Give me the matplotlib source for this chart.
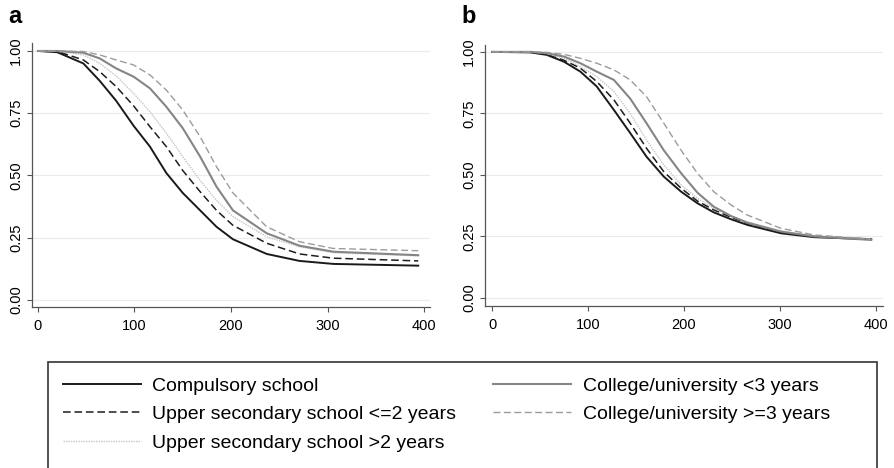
import matplotlib
matplotlib.use('Agg')
from matplotlib import pyplot as plt
from matplotlib.patches import Rectangle
from matplotlib.lines import Line2D

plt.rcParams['font.family'] = ['Liberation Sans', 'DejaVu Sans']

labels = ['Compulsory school', 'Upper secondary school <=2 years',
          'Upper secondary school >2 years', 'College/university <3 years',
          'College/university >=3 years']

# panel a
time_a = [0, 20, 47, 64, 81, 99, 116, 133, 150, 168, 185, 202, 237, 271, 306, 394]
a_comp = [1.0, 0.995, 0.95, 0.88, 0.80, 0.70, 0.616, 0.51, 0.43, 0.36, 0.294, 0.244, 0.185, 0.157, 0.145, 0.138]
a_us2 = [1.0, 0.998, 0.964, 0.917, 0.857, 0.78, 0.696, 0.616, 0.52, 0.435, 0.36, 0.30, 0.228, 0.185, 0.168, 0.157]
a_us3 = [1.0, 1.0, 0.984, 0.95, 0.90, 0.83, 0.756, 0.67, 0.576, 0.48, 0.40, 0.335, 0.254, 0.214, 0.19, 0.177]
a_col2 = [1.0, 1.0, 0.993, 0.97, 0.93, 0.897, 0.85, 0.776, 0.69, 0.576, 0.455, 0.36, 0.268, 0.218, 0.194, 0.18]
a_col3 = [1.0, 1.0, 0.998, 0.984, 0.964, 0.944, 0.904, 0.843, 0.763, 0.656, 0.535, 0.43, 0.294, 0.234, 0.207, 0.198]

# panel b
time_b = [0, 40, 57, 75, 92, 109, 127, 144, 161, 179, 197, 214, 231, 249, 266, 301, 336, 395]
b_comp = [1.0, 0.998, 0.988, 0.96, 0.92, 0.86, 0.764, 0.67, 0.574, 0.493, 0.432, 0.385, 0.348, 0.32, 0.297, 0.263, 0.247, 0.239]
b_us2 = [1.0, 0.999, 0.99, 0.966, 0.934, 0.88, 0.805, 0.71, 0.608, 0.513, 0.446, 0.394, 0.358, 0.328, 0.304, 0.267, 0.25, 0.239]
b_us3 = [1.0, 1.0, 0.993, 0.974, 0.94, 0.90, 0.839, 0.75, 0.642, 0.54, 0.46, 0.405, 0.365, 0.333, 0.31, 0.272, 0.252, 0.24]
b_col2 = [1.0, 1.0, 0.995, 0.981, 0.954, 0.92, 0.886, 0.81, 0.71, 0.60, 0.507, 0.428, 0.371, 0.333, 0.306, 0.27, 0.25, 0.236]
b_col3 = [1.0, 1.0, 0.998, 0.99, 0.974, 0.954, 0.927, 0.886, 0.818, 0.71, 0.60, 0.507, 0.432, 0.378, 0.337, 0.283, 0.256, 0.239]

styles = [
    dict(color='#1a1a1a', lw=1.4, ls='-'),
    dict(color='#1e1e1e', lw=1.1, ls=(0, (5, 2.5))),
    dict(color='#c4c4c4', lw=1.0, ls=(0, (1, 0.8))),
    dict(color='#858585', lw=1.5, ls='-'),
    dict(color='#9c9c9c', lw=1.0, ls=(0, (5, 2.5))),
]

W, H = 894, 468
fig = plt.figure(figsize=(W / 100, H / 100), dpi=100)


def setup(ax, xlim, ylim):
    ax.set_xlim(*xlim)
    ax.set_ylim(*ylim)
    for s in ['top', 'right']:
        ax.spines[s].set_visible(False)
    for s in ['left', 'bottom']:
        ax.spines[s].set_color('#555555')
        ax.spines[s].set_linewidth(0.9)
    ax.set_xticks([0, 100, 200, 300, 400])
    ax.set_yticks([0, 0.25, 0.5, 0.75, 1.0])
    ax.set_yticklabels(['0.00', '0.25', '0.50', '0.75', '1.00'], rotation=90, va='center')
    ax.tick_params(axis='both', length=3.5, width=0.8, color='#555555', labelsize=10.5, pad=3)
    ax.tick_params(axis='x', pad=5)
    ax.grid(axis='y', color='#ebebeb', lw=0.8)
    ax.set_axisbelow(True)


ax_a = fig.add_axes([32 / W, 1 - 307 / H, 398 / W, 264 / H])
setup(ax_a, (-6.2, 406.2), (-0.028, 1.032))
for y, st in zip([a_comp, a_us2, a_us3, a_col2, a_col3], styles):
    ax_a.plot(time_a, y, **st)

ax_b = fig.add_axes([485 / W, 1 - 306 / H, 398 / W, 261 / H])
setup(ax_b, (-7.3, 407.3), (-0.0325, 1.028))
for y, st in zip([b_comp, b_us2, b_us3, b_col2, b_col3], styles):
    ax_b.plot(time_b, y, **st)

fig.text(8 / W, 1 - 23 / H, 'a', fontsize=17, fontweight='bold', va='baseline')
fig.text(461 / W, 1 - 23 / H, 'b', fontsize=17, fontweight='bold', va='baseline')

# legend box (runs off the bottom like the reference)
fig.add_artist(Rectangle((48 / W, -0.1), 829 / W, (H - 362) / H + 0.1,
                         transform=fig.transFigure, fill=False,
                         edgecolor='#333333', lw=1.2))

handles = [Line2D([], [], **st) for st in styles]
fig.legend(handles, labels, ncol=2, loc='upper left',
           bbox_to_anchor=(63 / W, 1 - 377 / H), frameon=False,
           fontsize=14, handlelength=4.0, handletextpad=0.6,
           columnspacing=1.9, labelspacing=0.56, borderpad=0, borderaxespad=0)

fig.savefig('out.png', dpi=100)
